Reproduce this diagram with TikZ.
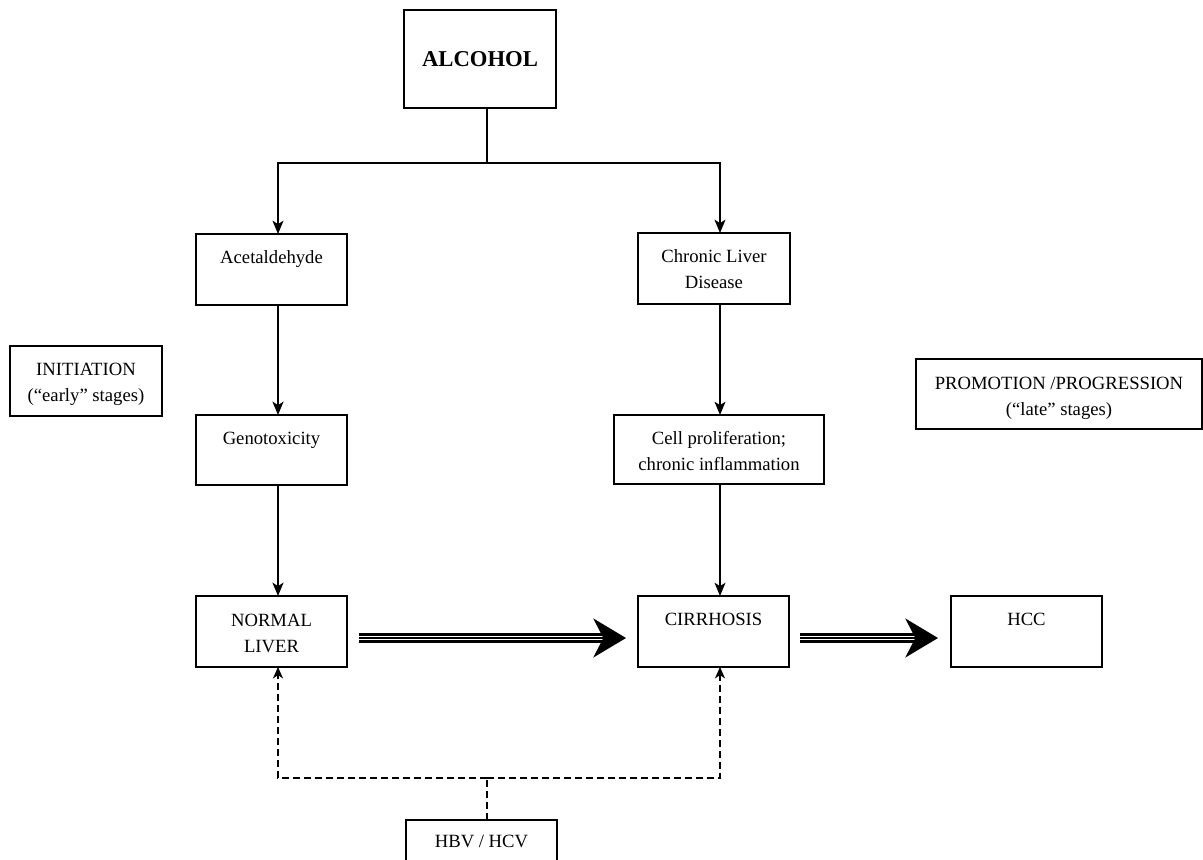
\documentclass[tikz,border=0pt]{standalone}
\usepackage{fontspec}
\setmainfont{Liberation Serif}
\usetikzlibrary{arrows.meta,calc}
\newdimen\pxu \pxu=0.75pt
\newcommand{\bxt}[4][29]{\parbox[c][#3\pxu][t]{#2\pxu}{\centering\rule{0pt}{#1\pxu}#4\par}}
\begin{document}
\begin{tikzpicture}[x=0.75pt,y=-0.75pt,
  bx/.style={draw, line width=1.05pt, inner sep=0pt, outer sep=0pt, font=\fontsize{14}{19.5}\selectfont},
  ln/.style={line width=1.1pt},
  tip/.style={-{Stealth[length=10pt, width=8.25pt, inset=2.6pt]}},
  arr/.style={line width=1.1pt, tip},
  arrthick/.style={line width=1.5pt, tip},
  arrthin/.style={line width=0.9pt, tip},
  dsh/.style={line width=1.3pt, dash pattern=on 5.25pt off 3pt},
  dsharr/.style={dsh, -{Stealth[length=8.5pt, width=7.5pt, inset=2.4pt]}},
  trimain/.style={line width=2pt, -{Stealth[length=24.5pt, width=29.25pt, inset=7.5pt]}},
  triside/.style={line width=2pt}]
\useasboundingbox (0,0) rectangle (1203,860);
\clip (0,0) rectangle (1203,860);

% boxes
\node[bx, minimum width=114pt, minimum height=73.5pt, font=\bfseries\fontsize{17}{20}\selectfont] (alc) at (480,59) {ALCOHOL};
\node[bx] (acet) at (271.5,269.5) {\bxt{151}{71}{Acetaldehyde}};
\node[bx] (geno) at (271.5,450) {\bxt{151}{70}{Genotoxicity}};
\node[bx] (normal) at (271.5,631.5) {\bxt[30]{151}{71}{NORMAL\\LIVER}};
\node[bx] (chronic) at (714,268.5) {\bxt{152}{71}{Chronic Liver\\Disease}};
\node[bx] (cell) at (719,449.5) {\bxt{210}{69}{Cell proliferation;\\chronic inflammation}};
\node[bx] (cirr) at (713.5,631.5) {\bxt{151}{71}{CIRRHOSIS}};
\node[bx] (hcc) at (1026.5,631.5) {\bxt{151}{71}{HCC}};
\node[bx] (init) at (86,381) {\bxt{152}{70}{INITIATION\\(“early” stages)}};
\node[bx] (prom) at (1059,394) {\bxt[30]{286}{70}{PROMOTION /PROGRESSION\\(“late” stages)}};
\node[bx] (hbv) at (481.5,855.5) {\bxt[27]{151}{71}{HBV / HCV}};

% top split
\coordinate (split) at (487,163);
\coordinate (jl) at (278,163);
\coordinate (jr) at (720,163);
\draw[ln] (alc.south -| split) -- (split);
\draw[arr] (split) -| (jl |- acet.north);
\draw[arr] (split) -| (jr |- chronic.north);

% left column
\draw[arrthick] (acet.south -| jl) -- (geno.north -| jl);
\draw[arrthick] (geno.south -| jl) -- (normal.north -| jl);

% right column
\draw[arrthin] (chronic.south -| jr) -- (cell.north -| jr);
\draw[arrthin] (cell.south -| jr) -- (cirr.north -| jr);

% triple arrows
\draw[triside] ($(normal.east)+(12,2.8)$) -- ($(cirr.west)+(-33,2.8)$);
\draw[triside] ($(normal.east)+(12,10.2)$) -- ($(cirr.west)+(-33,10.2)$);
\draw[trimain] ($(normal.east)+(12,6.5)$) -- ($(cirr.west)+(-12,6.5)$);
\draw[triside] ($(cirr.east)+(11,2.8)$) -- ($(hcc.west)+(-34,2.8)$);
\draw[triside] ($(cirr.east)+(11,10.2)$) -- ($(hcc.west)+(-34,10.2)$);
\draw[trimain] ($(cirr.east)+(11,6.5)$) -- ($(hcc.west)+(-13,6.5)$);

% dashed HBV/HCV connectors
\coordinate (dsplit) at (487,778);
\coordinate (dl) at (278,778);
\coordinate (dr) at (720,778);
\draw[dsh] (hbv.north -| dsplit) -- (dsplit);
\draw[dsharr] (dsplit) -| (dl |- normal.south);
\draw[dsharr] (dsplit) -| (dr |- cirr.south);
\end{tikzpicture}
\end{document}
